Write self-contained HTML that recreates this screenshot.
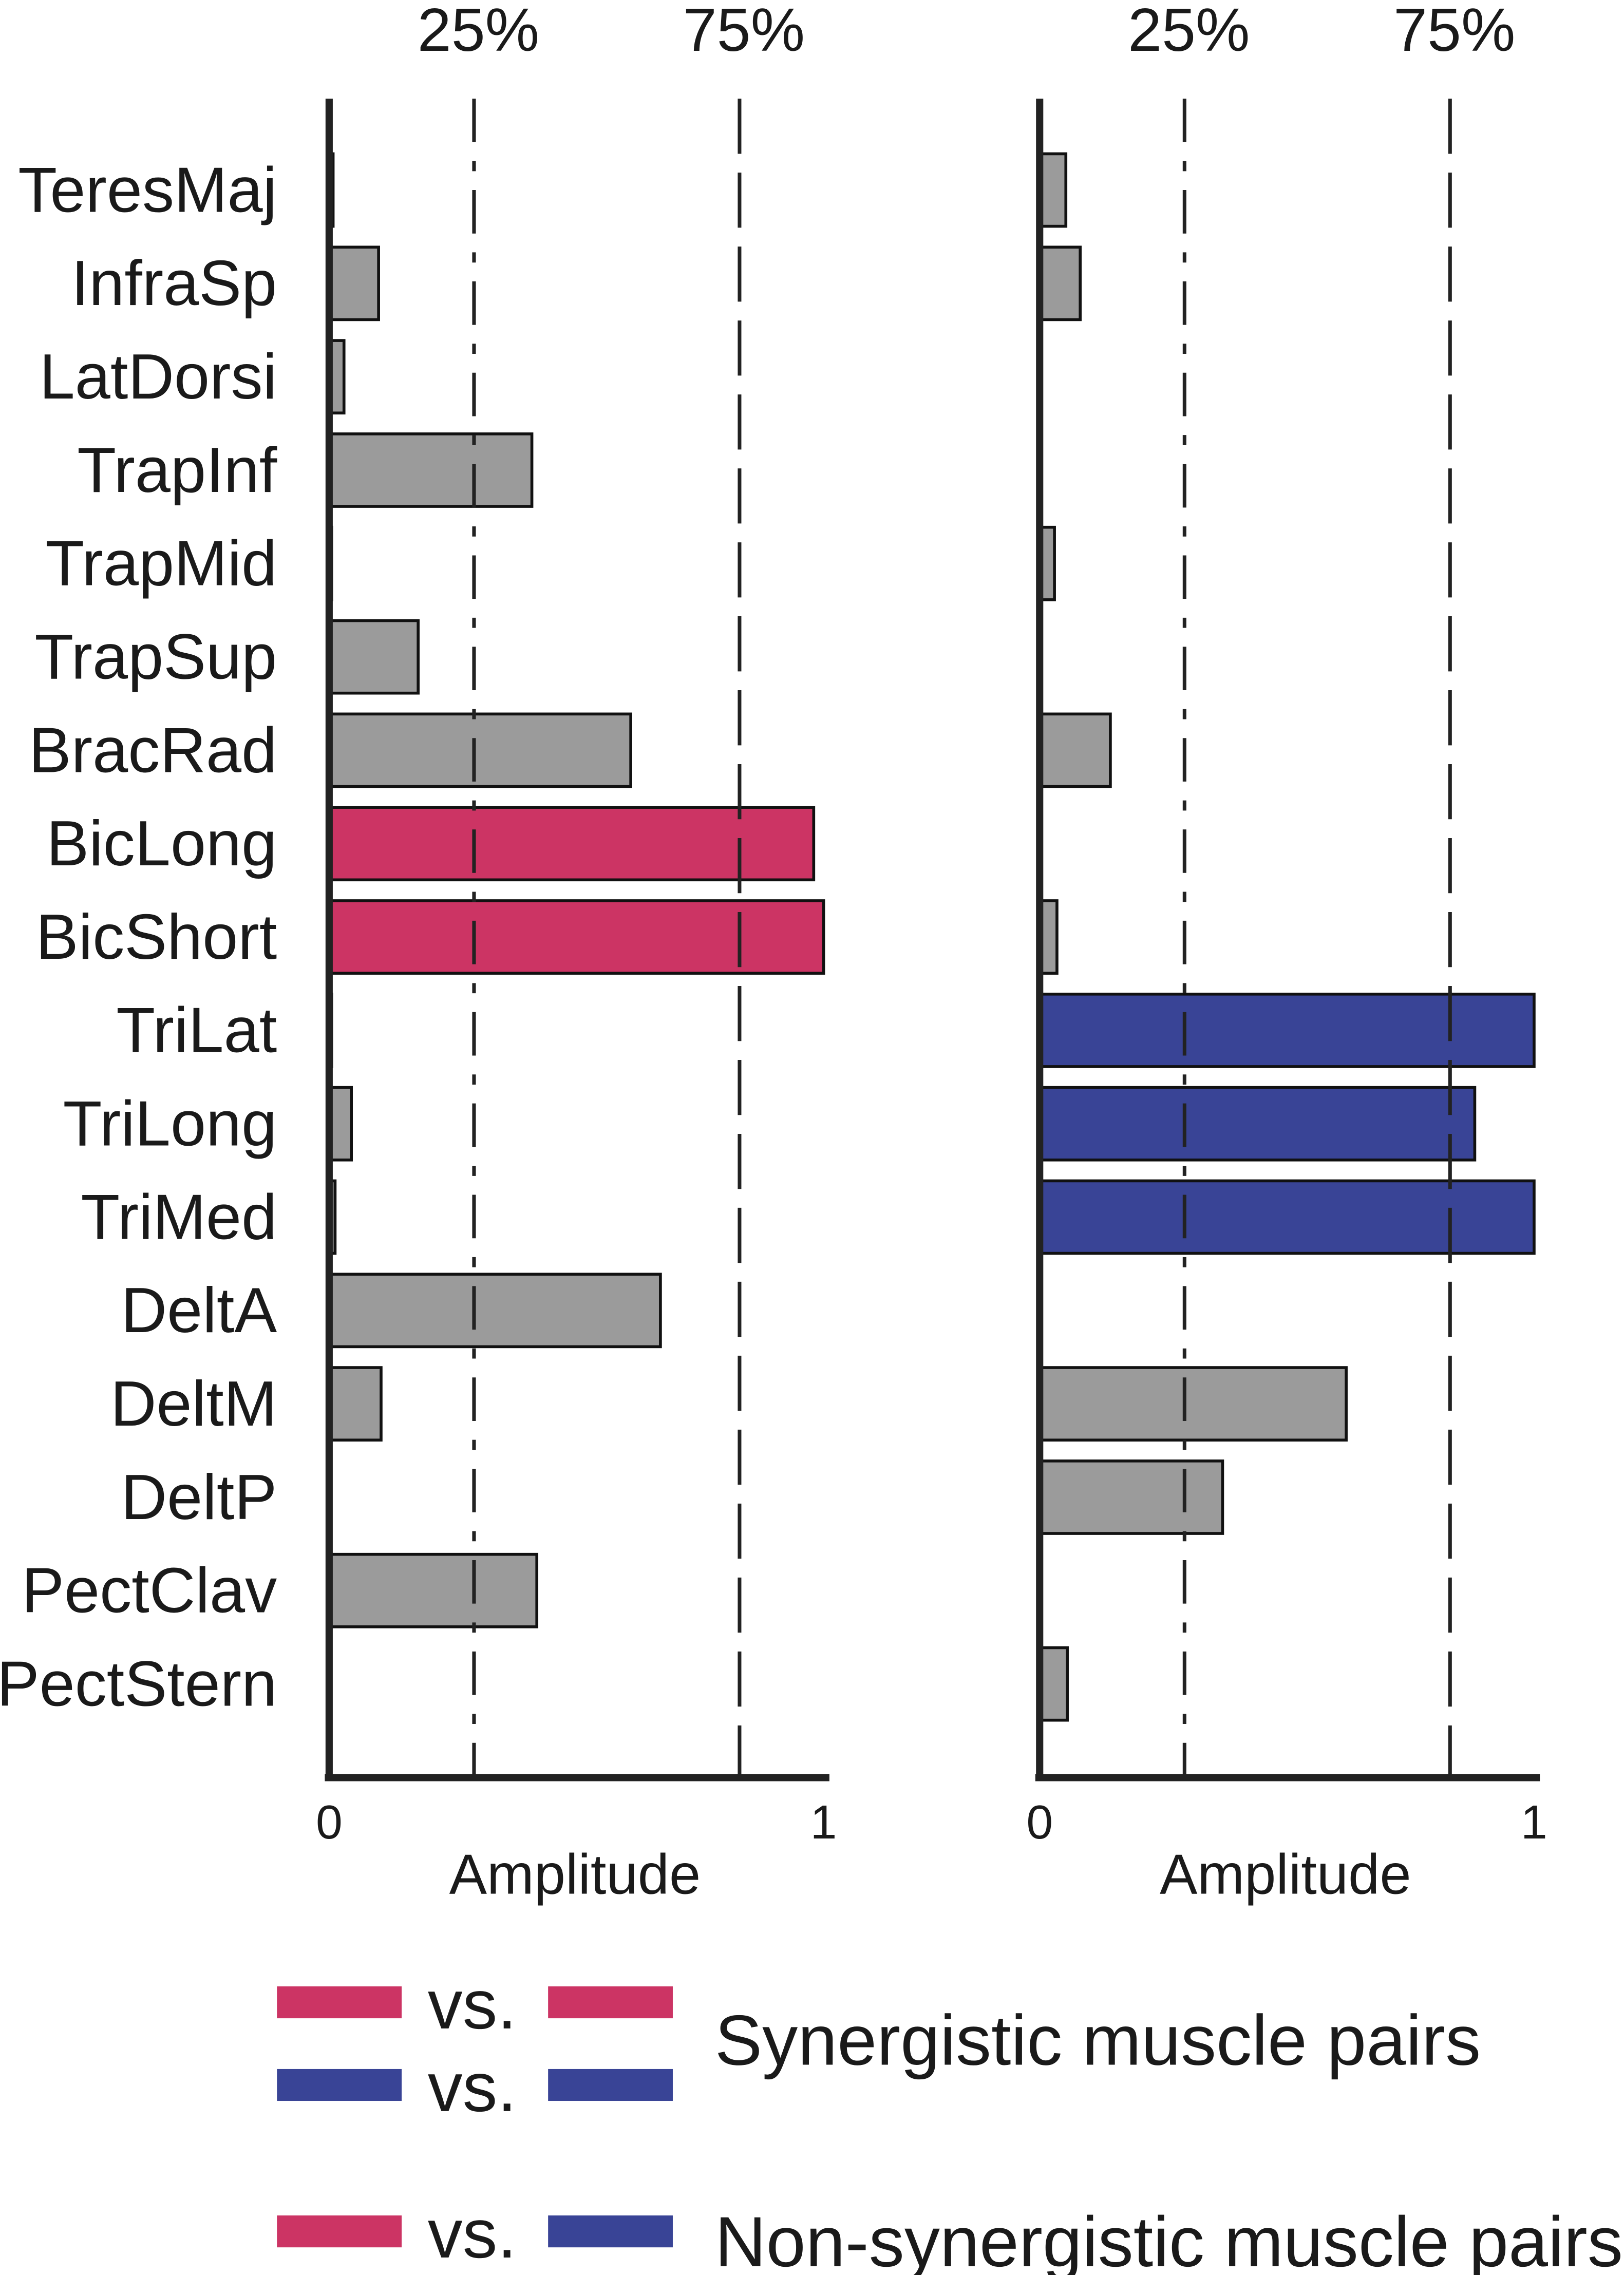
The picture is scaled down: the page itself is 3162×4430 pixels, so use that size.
<!DOCTYPE html>
<html><head><meta charset="utf-8"><style>
html,body{margin:0;padding:0;background:#fff;}
svg{display:block;}
text{font-family:"Liberation Sans",Arial,sans-serif;fill:#1a1a1a;}
</style></head><body>
<svg id="chart" width="3162" height="4430" viewBox="0 0 1120 1569" xmlns="http://www.w3.org/2000/svg">
<g id="root"></g>
</svg>
<script>
const muscles = ["TeresMaj","InfraSp","LatDorsi","TrapInf","TrapMid","TrapSup","BracRad","BicLong","BicShort","TriLat","TriLong","TriMed","DeltA","DeltM","DeltP","PectClav","PectStern"];
const leftValues = [0.008,0.10,0.03,0.41,0.005,0.18,0.61,0.98,1.0,0.005,0.045,0.012,0.67,0.105,0.003,0.42,0.003];
const rightValues = [0.053,0.082,0,0,0.03,0,0.143,0,0.035,1.0,0.88,1.0,0,0.62,0.37,0,0.056];
const leftColors = ["g","g","g","g","g","g","g","p","p","g","g","g","g","g","g","g","g"];
const rightColors = ["g","g","g","g","g","g","g","g","g","b","b","b","g","g","g","g","g"];
const refLines = [0.293, 0.83];
const refLabels = ["25%","75%"];
const xTicks = [0,1];

const NS="http://www.w3.org/2000/svg";
const root=document.getElementById('root');
const COL={g:"#9b9b9b",p:"#cc3464",b:"#394496"};
function mk(tag,attrs,parent){const e=document.createElementNS(NS,tag);for(const k in attrs)e.setAttribute(k,attrs[k]);(parent||root).appendChild(e);return e;}
const rowY=i=>131+i*64.4;
const barH=50;

function panel(x0,values,colors,name){
  const g=mk('g',{});
  
  
  const sx=v=>x0+v*341;
  values.forEach((v,i)=>{
    if(v<=0)return;
    const r=mk('rect',{x:x0,y:rowY(i)-barH/2,width:Math.max(sx(v)-x0,1),height:barH,fill:COL[colors[i]],stroke:"#111",'stroke-width':2},g);
    
    
  });
  refLines.forEach((v,k)=>{
    const l=mk('line',{x1:sx(v),x2:sx(v),y1:68,y2:1224,stroke:"#222",'stroke-width':2.5,'stroke-dasharray':k===0?"30 13 7 13":"38 13"},g);
    
    
    const t=mk('text',{x:sx(v)+3,y:35,'text-anchor':'middle','font-size':42},g);
    t.textContent=refLabels[k];
    
    
  });
  const ya=mk('line',{x1:x0,x2:x0,y1:68,y2:1228,stroke:"#222",'stroke-width':5},g);
  
  
  const xa=mk('line',{x1:x0-3,x2:sx(1)+4,y1:1226,y2:1226,stroke:"#222",'stroke-width':5},g);
  
  
  xTicks.forEach(v=>{
    const t=mk('text',{x:sx(v),y:1268,'text-anchor':'middle','font-size':33},g);
    t.textContent=String(v);
    
    
  });
  const at=mk('text',{x:sx(0.5)-1,y:1306,'text-anchor':'middle','font-size':39},g);
  at.textContent="Amplitude";
  
  
}
muscles.forEach((m,i)=>{
  const t=mk('text',{x:191,y:rowY(i)+15,'text-anchor':'end','font-size':44});
  t.textContent=m;
  
  
});
panel(227,leftValues,leftColors,'left-panel');
panel(717,rightValues,rightColors,'right-panel');

// legend
const leg=mk('g',{});


const rowsL=[[1381,"p","p"],[1438,"b","b"],[1539,"p","b"]];
rowsL.forEach(r=>{
  const a=mk('rect',{x:191,y:r[0]-11,width:86,height:22,fill:COL[r[1]]},leg);
  
  
  const b=mk('rect',{x:378,y:r[0]-11,width:86,height:22,fill:COL[r[2]]},leg);
  
  
  const v=mk('text',{x:295,y:r[0]+18,'font-size':48},leg);
  v.textContent="vs.";
  
  
});
const s1=mk('text',{x:493,y:1424,'font-size':49},leg);
s1.textContent="Synergistic muscle pairs";


const s2=mk('text',{x:493,y:1563,'font-size':49},leg);
s2.textContent="Non-synergistic muscle pairs";


</script>
</body></html>
